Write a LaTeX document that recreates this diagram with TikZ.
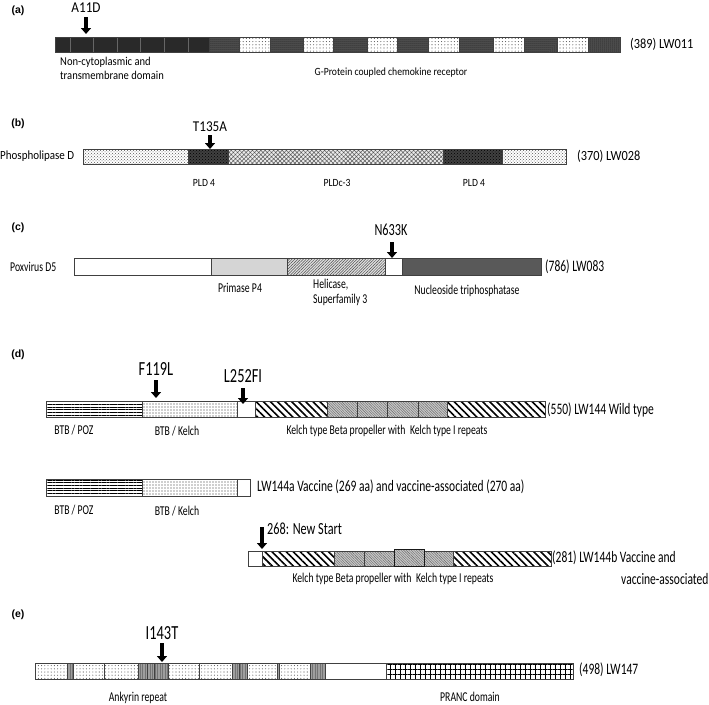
\documentclass[tikz,border=0pt]{standalone}
\usepackage{fontspec}
\setmainfont{Carlito}
\newfontfamily\ca[FakeStretch=0.88]{Carlito}
\newfontfamily\cb[FakeStretch=0.72]{Carlito}
\newfontfamily\pan{Liberation Sans}
\usetikzlibrary{patterns,patterns.meta,arrows.meta}
\tikzset{
  bar/.style={draw=black!75,line width=0.7pt},
  wht/.style={bar,fill=white},
  dkv/.style={bar,fill=black!84},
  dkd/.style={bar,preaction={fill=black!68},pattern={Dots[distance=2pt,radius=0.5pt]},pattern color=black},
  wdot/.style={bar,preaction={fill=white},pattern={Dots[distance=3.2pt,radius=0.55pt]},pattern color=black!65},
  lcd/.style={bar,preaction={fill=white},pattern=crosshatch dots,pattern color=black!65},
  hch/.style={bar,preaction={fill=black!8},pattern={Hatch[angle=45,distance=3pt,line width=0.5pt]},pattern color=black!65},
  dcd/.style={bar,preaction={fill=black!75},pattern=crosshatch dots,pattern color=black},
  fdot/.style={bar,preaction={fill=black!12},pattern={Dots[distance=2pt,radius=0.45pt]},pattern color=black!60},
  hel/.style={bar,preaction={fill=black!12},pattern={Lines[angle=45,distance=2pt,line width=0.5pt]},pattern color=black!70},
  dgr/.style={bar,fill=black!65},
  hln/.style={bar,preaction={fill=white},pattern={Lines[angle=0,distance=2.7pt,line width=0.55pt]},pattern color=black},
  ddot/.style={bar,preaction={fill=white},pattern={Dots[distance=3pt,radius=0.6pt]},pattern color=black!80},
  nwl/.style={bar,preaction={fill=white},pattern={Lines[angle=-45,distance=5pt,line width=1.6pt]},pattern color=black},
  lh/.style={bar,preaction={fill=black!22},pattern={Lines[angle=-45,distance=1.8pt,line width=0.4pt]},pattern color=black!60},
  egr/.style={bar,preaction={fill=black!38},pattern={Lines[angle=90,distance=2.5pt,line width=0.3pt]},pattern color=black!55},
  grd/.style={bar,preaction={fill=white},pattern={Hatch[angle=0,distance=5pt,line width=0.6pt]},pattern color=black},
  mut/.style={line width=3.6pt,-{Triangle[width=10pt,length=6pt]}},
  plab/.style={font=\pan\bfseries\fontsize{10.5}{11}\selectfont,inner sep=0pt},
  ta/.style={font=\ca\fontsize{11}{13}\selectfont,inner sep=0pt},
  tname/.style={font=\ca\fontsize{14}{15}\selectfont,inner sep=0pt,anchor=west},
  tmA/.style={font=\ca\fontsize{15}{15}\selectfont,inner sep=0pt},
  tb/.style={font=\cb\fontsize{13.5}{15}\selectfont,inner sep=0pt},
  tnameB/.style={font=\cb\fontsize{16}{18}\selectfont,inner sep=0pt,anchor=west},
  tmB/.style={font=\cb\fontsize{20}{20}\selectfont,inner sep=0pt},
}
\begin{document}
\begin{tikzpicture}[x=1pt,y=-1pt]
\useasboundingbox (0,0) rectangle (709,704);
% ---------------- (a)
\node[plab] (la) at (18,11) {(a)};
\draw[dkv] (55,37) rectangle (209,52);
\foreach \x in {70,93,117,140,164,188} \draw[black!60,line width=0.5pt] (\x,37) -- (\x,52);
\foreach \a/\b in {209/239,270/303,333/367,397/428,459/493,524/557,588/620} \draw[dkd] (\a,37) rectangle (\b,52);
\foreach \a/\b in {239/270,303/333,367/397,428/459,493/524,557/588} \draw[wdot] (\a,37) rectangle (\b,52);
\draw[bar] (55,37) rectangle (620,52);
\node[tmA] (mA) at (86,8) {A11D};
\coordinate (sA) at (86,17); \coordinate (eA) at (86,34);
\draw[mut] (sA) -- (eA);
\node[ta,font=\ca\fontsize{12}{13.5}\selectfont,align=left,anchor=west] (da1) at (60,68.5) {Non-cytoplasmic and\\transmembrane domain};
\node[ta] (da2) at (391,73) {G-Protein coupled chemokine receptor};
\node[tname] (na) at (630,44) {(389) LW011};
% ---------------- (b)
\node[plab] (lb) at (18,124) {(b)};
\draw[lcd] (83,149) rectangle (188,164);
\draw[dcd] (188,149) rectangle (228,164);
\draw[hch] (228,149) rectangle (443,164);
\draw[dcd] (443,149) rectangle (502,164);
\draw[lcd] (502,149) rectangle (566,164);
\node[tmA] (mB) at (210,127) {T135A};
\coordinate (sB) at (210,135); \coordinate (eB) at (210,149);
\draw[mut] (sB) -- (eB);
\node[ta,font=\ca\fontsize{12.5}{13}\selectfont,anchor=west] (pb) at (0,156) {Phospholipase D};
\node[tname] (nb) at (577,156) {(370) LW028};
\node[ta] (db1) at (204,183) {PLD 4};
\node[ta] (db2) at (337,183) {PLDc-3};
\node[ta] (db3) at (474,183) {PLD 4};
% ---------------- (c)
\node[plab] (lc) at (18,228) {(c)};
\draw[wht] (74,258) rectangle (211,275);
\draw[fdot] (211,258) rectangle (287,275);
\draw[hel] (287,258) rectangle (385,275);
\draw[wht] (385,258) rectangle (402,275);
\draw[dgr] (402,258) rectangle (541,275);
\node[tmB,font=\cb\fontsize{17}{17}\selectfont] (mC) at (391,230) {N633K};
\coordinate (sC) at (392,242); \coordinate (eC) at (392,258);
\draw[mut] (sC) -- (eC);
\node[tb,anchor=west] (pc) at (10,267) {Poxvirus D5};
\node[tnameB] (nc) at (545,267) {(786) LW083};
\node[tb] (dc1) at (240,288) {Primase P4};
\node[tb,align=left,anchor=west] (dc2) at (313,292.5) {Helicase,\\Superfamily 3};
\node[tb] (dc3) at (467,291) {Nucleoside triphosphatase};
% ---------------- (d)
\node[plab] (ld) at (18,355) {(d)};
\draw[hln] (46,401) rectangle (142,417);
\draw[ddot] (142,401) rectangle (237,417);
\draw[wht] (237,401) rectangle (255,417);
\draw[nwl] (255,401) rectangle (327,417);
\foreach \a/\b in {327/357,357/387,387/418,418/447} \draw[lh] (\a,401) rectangle (\b,417);
\draw[nwl] (447,401) rectangle (545,417);
\node[tmB] (mD1) at (156,369) {F119L};
\coordinate (sD1) at (156,380); \coordinate (eD1) at (156,398);
\draw[mut] (sD1) -- (eD1);
\node[tmB] (mD2) at (243,376) {L252FI};
\coordinate (sD2) at (243,388); \coordinate (eD2) at (243,404);
\draw[mut] (sD2) -- (eD2);
\node[tnameB] (nd) at (547,410) {(550) LW144 Wild type};
\node[tb] (dd1) at (74,430) {BTB / POZ};
\node[tb] (dd2) at (177,431) {BTB / Kelch};
\node[tb] (dd3) at (387,431) {Kelch type Beta propeller with\, Kelch type I repeats};
% second
\draw[hln] (46,479) rectangle (142,496);
\draw[ddot] (142,479) rectangle (237,496);
\draw[wht] (237,479) rectangle (250,496);
\node[tnameB] (nd2) at (257,487) {LW144a Vaccine (269 aa) and vaccine-associated (270 aa)};
\node[tb] (dd4) at (74,510) {BTB / POZ};
\node[tb] (dd5) at (177,511) {BTB / Kelch};
% third
\draw[wht] (248,551) rectangle (262,566);
\draw[nwl] (262,551) rectangle (334,566);
\foreach \a/\b in {334/364,364/394,424/453} \draw[lh] (\a,551) rectangle (\b,566);
\draw[lh,line width=0.9pt,draw=black!90] (394,549.5) rectangle (424,566);
\draw[nwl] (453,551) rectangle (551,566);
\coordinate (sD3) at (262,527); \coordinate (eD3) at (262,549);
\draw[mut] (sD3) -- (eD3);
\node[tnameB,font=\cb\fontsize{17}{17}\selectfont] (mD3) at (267,529) {268: New Start};
\node[tnameB] (nd3) at (552,558) {(281) LW144b Vaccine and};
\node[tnameB] (nd4) at (621,579) {vaccine-associated};
\node[tb] (dd6) at (393,579) {Kelch type Beta propeller with\, Kelch type I repeats};
% ---------------- (e)
\node[plab] (le) at (18,615) {(e)};
\foreach \a/\b in {35/67,73/104,104/138,168/199,199/232,247/277,279/310} \draw[wdot] (\a,663) rectangle (\b,679);
\foreach \a/\b in {67/73,138/147,147/154,154/168,232/239,239/247,277/279,310/325} \draw[egr] (\a,663) rectangle (\b,679);
\draw[wht] (325,663) rectangle (386,679);
\draw[grd] (386,663) rectangle (573,679);
\node[tmB] (mE) at (162,633) {I143T};
\coordinate (sE) at (162,643); \coordinate (eE) at (162,662);
\draw[mut] (sE) -- (eE);
\node[tnameB] (ne) at (579,670) {(498) LW147};
\node[tb] (de1) at (138,698) {Ankyrin repeat};
\node[tb] (de2) at (470,697) {PRANC domain};
\end{tikzpicture}
\end{document}
